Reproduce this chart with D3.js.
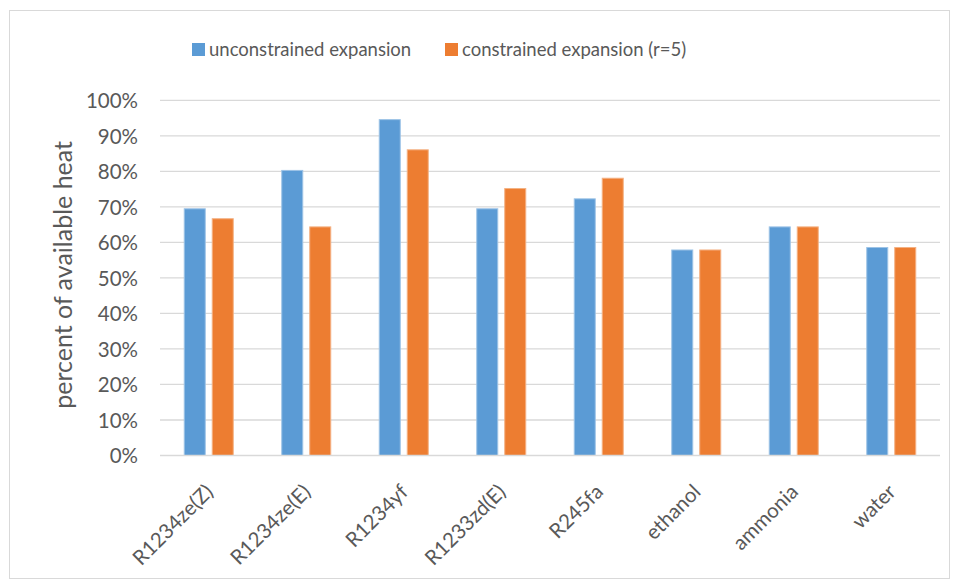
<!DOCTYPE html>
<html>
<head>
<meta charset="utf-8">
<script src="https://cdn.jsdelivr.net/npm/d3@7"></script>
<style>
  html, body { margin: 0; padding: 0; background: #fff; }
  svg { display: block; font-family: Lato, "Open Sans", sans-serif; }
</style>
</head>
<body>
<svg id="chart" width="958" height="580"></svg>
<script>
// Working fluids on the x axis
const categories = ["R1234ze(Z)", "R1234ze(E)", "R1234yf", "R1233zd(E)", "R245fa", "ethanol", "ammonia", "water"];
// Series names shown in the legend
const seriesNames = ["unconstrained expansion", "constrained expansion (r=5)"];
// Share of available heat for each fluid
const unconstrained = [0.696, 0.804, 0.947, 0.696, 0.724, 0.580, 0.645, 0.587];
const constrained   = [0.668, 0.645, 0.862, 0.753, 0.782, 0.580, 0.645, 0.587];
// Y tick values
const yTicks = [0, 0.1, 0.2, 0.3, 0.4, 0.5, 0.6, 0.7, 0.8, 0.9, 1.0];

const colors = ["#5B9BD5", "#ED7D31"];
const strokes = ["#9dc3e6", "#f4b183"];
const seriesValues = [unconstrained, constrained];

const svg = d3.select("#chart");

// chart frame
svg.append("rect")
  .attr("x", 9.5).attr("y", 10.5)
  .attr("width", 940).attr("height", 568)
  .attr("fill", "#fff").attr("stroke", "#d9d9d9").attr("stroke-width", 1);

const plot = { left: 160, right: 940, top: 100.3, bottom: 455.5 };

const x0 = d3.scaleBand().domain(categories).range([plot.left, plot.right]).paddingInner(0).paddingOuter(0);
const bw = x0.bandwidth();
const x1 = d3.scaleBand().domain(d3.range(seriesNames.length))
  .range([bw / 2 - 25, bw / 2 + 25]).paddingInner(0.214).paddingOuter(0);
const y = d3.scaleLinear().domain([0, 1]).range([plot.bottom, plot.top]);

// gridlines
svg.append("g").selectAll("line").data(yTicks.slice(1)).join("line")
  .attr("x1", plot.left).attr("x2", plot.right)
  .attr("y1", d => y(d)).attr("y2", d => y(d))
  .attr("stroke", "#d9d9d9").attr("stroke-width", 1.3);

// y axis labels
const yAxis = d3.axisLeft(y).tickValues(yTicks).tickFormat(d3.format(".0%")).tickSize(0).tickPadding(0);
const gy = svg.append("g").attr("transform", `translate(${plot.left - 22},0)`).call(yAxis);
gy.select(".domain").remove();
gy.selectAll("text").attr("fill", "#595959").style("font-size", "20.5px")
  .style("font-family", "Lato, sans-serif").attr("dy", "0.36em");

// bars
const groups = svg.append("g").selectAll("g").data(categories).join("g")
  .attr("transform", d => `translate(${x0(d)},0)`);
groups.selectAll("rect")
  .data((d, i) => seriesValues.map((vals, s) => ({ s, v: vals[i] })))
  .join("rect")
  .attr("x", d => x1(d.s) + 0.5)
  .attr("width", x1.bandwidth() - 1)
  .attr("y", d => y(d.v) + 0.5)
  .attr("height", d => y(0) - y(d.v) - 0.5)
  .attr("fill", d => colors[d.s])
  .attr("stroke", d => strokes[d.s])
  .attr("stroke-width", 1);

// x axis baseline
svg.append("line")
  .attr("x1", plot.left).attr("x2", plot.right)
  .attr("y1", plot.bottom).attr("y2", plot.bottom)
  .attr("stroke", "#d9d9d9").attr("stroke-width", 1.5);

// x axis labels, rotated
const xAxis = d3.axisBottom(x0).tickSize(0).tickPadding(0);
const gx = svg.append("g").attr("transform", `translate(0,${plot.bottom})`).call(xAxis);
gx.select(".domain").remove();
gx.selectAll("text")
  .attr("fill", "#595959").style("font-size", "20.5px").style("font-family", "Lato, sans-serif")
  .attr("text-anchor", "end")
  .attr("dy", null).attr("y", null)
  .attr("transform", "translate(0,32) rotate(-45)")
  .attr("dominant-baseline", "central");

// y axis title
svg.append("text")
  .attr("transform", `translate(72,${(plot.top + plot.bottom) / 2 - 3}) rotate(-90)`)
  .attr("text-anchor", "middle")
  .attr("fill", "#595959").style("font-size", "25px")
  .text("percent of available heat");

// legend
const legendX = [192, 445];
const lg = svg.append("g").selectAll("g").data(seriesNames).join("g")
  .attr("transform", (d, i) => `translate(${legendX[i]},43)`);
lg.append("rect").attr("width", 13).attr("height", 13).attr("fill", (d, i) => colors[i]);
lg.append("text").attr("x", 17).attr("y", 12.5)
  .attr("fill", "#595959").style("font-size", "18.5px").text(d => d);
</script>
</body>
</html>
